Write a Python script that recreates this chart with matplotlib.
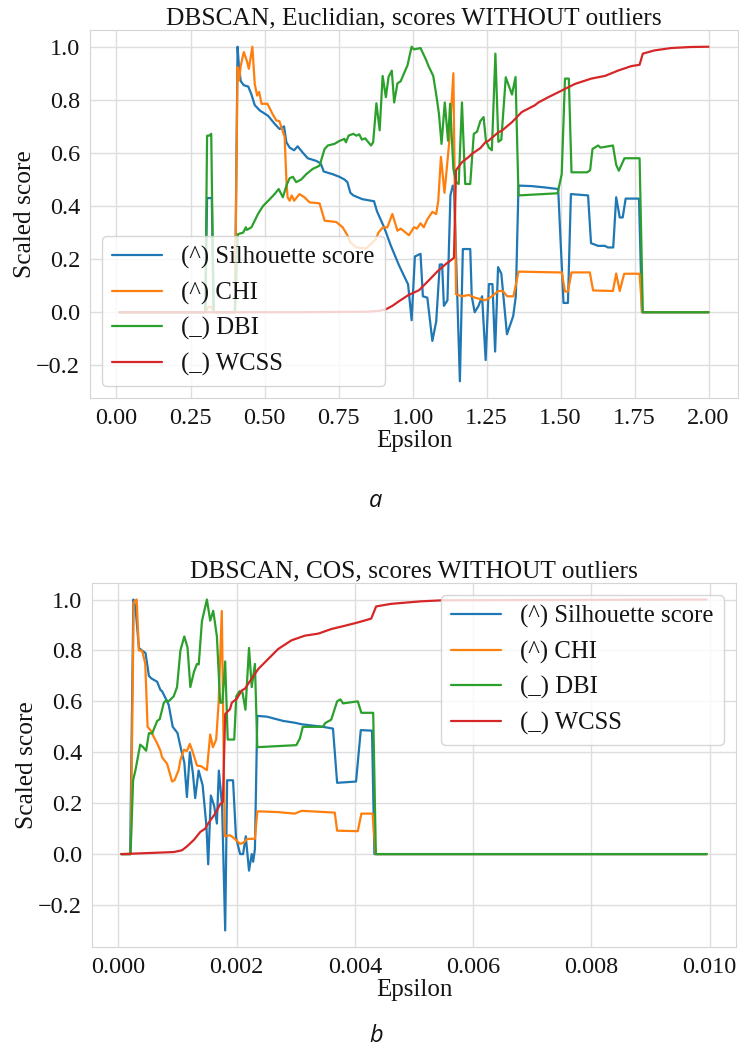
import numpy as np
import matplotlib
matplotlib.use("Agg")
import matplotlib.pyplot as plt
import seaborn as sns

# ---------------- data: panel (a) Euclidian ----------------
eu_sil_x = [0.01, 0.30, 0.306, 0.322, 0.328, 0.40, 0.409, 0.414, 0.42, 0.43, 0.445, 0.456, 0.467, 0.484,
            0.512, 0.534, 0.551, 0.566, 0.574, 0.585, 0.60, 0.612, 0.63, 0.646, 0.675, 0.69, 0.70, 0.73,
            0.753, 0.77, 0.78, 0.79, 0.80, 0.83, 0.87, 0.88, 0.904, 0.927, 0.955, 0.985, 0.997, 1.008,
            1.027, 1.035, 1.05, 1.067, 1.08, 1.092, 1.10, 1.106, 1.118, 1.128, 1.136, 1.14, 1.16, 1.17,
            1.195, 1.20, 1.21, 1.223, 1.235, 1.247, 1.258, 1.27, 1.279, 1.289, 1.30, 1.319, 1.34, 1.349,
            1.358, 1.403, 1.448, 1.492, 1.51, 1.525, 1.535, 1.593, 1.603, 1.627, 1.65, 1.66, 1.678, 1.688,
            1.70, 1.71, 1.72, 1.765, 1.775, 2.0]
eu_sil_y = [0, 0, 0.43, 0.43, 0, 0, 1.0, 0.92, 0.87, 0.855, 0.85, 0.82, 0.78, 0.76,
            0.74, 0.71, 0.69, 0.70, 0.64, 0.62, 0.61, 0.625, 0.60, 0.58, 0.57, 0.56, 0.53, 0.52,
            0.51, 0.50, 0.49, 0.45, 0.44, 0.426, 0.418, 0.38, 0.32, 0.25, 0.175, 0.105, -0.03, 0.21,
            0.22, 0.06, 0.055, -0.108, -0.035, 0.18, 0.18, 0.024, 0.045, 0.44, 0.477, 0.47, -0.26, 0.238,
            0.238, 0.06, 0.0, 0.024, 0.06, -0.18, 0.106, 0.106, -0.148, 0.17, 0.145, -0.083, -0.015, 0.06,
            0.477, 0.475, 0.47, 0.464, 0.035, 0.035, 0.445, 0.44, 0.26, 0.25, 0.25, 0.244, 0.244, 0.433,
            0.357, 0.357, 0.428, 0.428, 0.0, 0.0]

eu_chi_x = [0.01, 0.30, 0.31, 0.32, 0.33, 0.40, 0.409, 0.414, 0.42, 0.43, 0.44, 0.447, 0.459, 0.467,
            0.475, 0.482, 0.49, 0.51, 0.527, 0.54, 0.55, 0.557, 0.568, 0.574, 0.578, 0.585, 0.592, 0.60,
            0.618, 0.635, 0.652, 0.686, 0.703, 0.742, 0.764, 0.78, 0.79, 0.81, 0.843, 0.876, 0.885, 0.90,
            0.915, 0.932, 0.949, 0.96, 0.988, 1.005, 1.015, 1.027, 1.038, 1.05, 1.067, 1.08, 1.087, 1.096,
            1.108, 1.124, 1.138, 1.147, 1.167, 1.19, 1.21, 1.246, 1.268, 1.29, 1.305, 1.32, 1.341, 1.358,
            1.49, 1.504, 1.515, 1.525, 1.537, 1.599, 1.61, 1.677, 1.688, 1.70, 1.715, 1.767, 1.776, 2.0]
eu_chi_y = [0, 0, 0.02, 0.02, 0, 0, 0.923, 0.873, 0.93, 0.98, 0.948, 0.917, 1.0, 0.86,
            0.816, 0.83, 0.785, 0.785, 0.747, 0.722, 0.72, 0.697, 0.66, 0.495, 0.433, 0.42, 0.44, 0.42,
            0.445, 0.433, 0.414, 0.41, 0.345, 0.34, 0.32, 0.29, 0.263, 0.244, 0.24, 0.275, 0.30, 0.32,
            0.32, 0.37, 0.307, 0.315, 0.29, 0.32, 0.315, 0.335, 0.32, 0.35, 0.378, 0.37, 0.42, 0.585,
            0.45, 0.64, 0.90, 0.068, 0.06, 0.065, 0.055, 0.045, 0.06, 0.08, 0.08, 0.06, 0.06, 0.153,
            0.15, 0.15, 0.078, 0.078, 0.15, 0.15, 0.082, 0.08, 0.146, 0.08, 0.145, 0.145, 0.0, 0.0]

eu_dbi_x = [0.01, 0.30, 0.306, 0.313, 0.32, 0.328, 0.40, 0.41, 0.428, 0.437, 0.44, 0.456, 0.467, 0.478,
            0.495, 0.518, 0.534, 0.548, 0.562, 0.576, 0.585, 0.596, 0.607, 0.624, 0.641, 0.663, 0.686,
            0.703, 0.714, 0.736, 0.753, 0.77, 0.775, 0.784, 0.80, 0.81, 0.82, 0.829, 0.84, 0.851, 0.86,
            0.867, 0.878, 0.889, 0.899, 0.91, 0.919, 0.93, 0.938, 0.949, 0.96, 0.983, 0.997, 1.005, 1.027,
            1.044, 1.055, 1.07, 1.08, 1.089, 1.098, 1.109, 1.12, 1.127, 1.138, 1.147, 1.156, 1.167, 1.178,
            1.195, 1.207, 1.218, 1.229, 1.24, 1.248, 1.258, 1.268, 1.28, 1.29, 1.30, 1.315, 1.336, 1.348,
            1.358, 1.49, 1.504, 1.515, 1.528, 1.537, 1.59, 1.60, 1.608, 1.627, 1.635, 1.677, 1.688, 1.697,
            1.716, 1.767, 1.778, 2.0]
eu_dbi_y = [0, 0, 0.665, 0.665, 0.672, 0, 0, 0.294, 0.30, 0.32, 0.31, 0.32, 0.345, 0.37,
            0.40, 0.426, 0.445, 0.464, 0.433, 0.483, 0.505, 0.51, 0.49, 0.50, 0.52, 0.54, 0.552,
            0.615, 0.628, 0.634, 0.645, 0.653, 0.64, 0.665, 0.672, 0.665, 0.67, 0.65, 0.655, 0.64, 0.628,
            0.64, 0.787, 0.685, 0.89, 0.81, 0.886, 0.91, 0.79, 0.862, 0.87, 0.93, 1.0, 0.99, 0.995,
            0.955, 0.925, 0.89, 0.82, 0.75, 0.634, 0.79, 0.646, 0.785, 0.54, 0.49, 0.483, 0.79, 0.483,
            0.483, 0.672, 0.68, 0.72, 0.735, 0.646, 0.62, 0.61, 0.974, 0.642, 0.65, 0.885, 0.82, 0.886,
            0.44, 0.448, 0.52, 0.88, 0.88, 0.527, 0.527, 0.535, 0.615, 0.628, 0.62, 0.628, 0.555, 0.533,
            0.58, 0.58, 0.0, 0.0]

eu_wcss_x = [0.01, 0.60, 0.85, 0.887, 0.91, 0.932, 0.955, 0.985, 1.022, 1.055, 1.085, 1.111, 1.14,
             1.147, 1.167, 1.19, 1.20, 1.229, 1.246, 1.257, 1.29, 1.302, 1.336, 1.369, 1.414, 1.425,
             1.459, 1.504, 1.549, 1.604, 1.65, 1.694, 1.739, 1.767, 1.778, 1.817, 1.873, 1.94, 2.0]
eu_wcss_y = [0, 0, 0.002, 0.005, 0.011, 0.024, 0.042, 0.064, 0.083, 0.12, 0.155, 0.18, 0.205,
             0.535, 0.565, 0.585, 0.596, 0.618, 0.64, 0.646, 0.678, 0.684, 0.716, 0.754, 0.78, 0.79,
             0.81, 0.835, 0.86, 0.88, 0.89, 0.91, 0.927, 0.932, 0.974, 0.986, 0.995, 0.999, 1.0]

# ---------------- data: panel (b) COS (epsilon in units of 1e-3) ----------------
cos_sil_x = [0.05, 0.20, 0.255, 0.29, 0.348, 0.40, 0.46, 0.517, 0.56, 0.657, 0.712, 0.74, 0.825, 0.853,
             0.92, 1.0, 1.06, 1.116, 1.16, 1.21, 1.26, 1.30, 1.358, 1.426, 1.49, 1.52, 1.565, 1.62, 1.667,
             1.70, 1.755, 1.807, 1.84, 1.94, 1.99, 2.06, 2.11, 2.155, 2.21, 2.256, 2.28, 2.31, 2.35, 2.51,
             2.79, 2.985, 3.1, 3.46, 3.63, 3.70, 4.02, 4.10, 4.29, 4.33, 9.95]
cos_sil_y = [0, 0, 1.0, 0.97, 0.81, 0.80, 0.79, 0.70, 0.69, 0.677, 0.645, 0.64, 0.60, 0.585,
             0.50, 0.476, 0.413, 0.36, 0.224, 0.40, 0.32, 0.22, 0.328, 0.27, 0.11, -0.04, 0.23, 0.19, 0.12,
             0.328, 0.19, -0.30, 0.29, 0.29, 0.065, 0.0, 0.0, 0.07, -0.065, 0.0, -0.03, 0.02, 0.543, 0.54,
             0.523, 0.516, 0.51, 0.50, 0.493, 0.28, 0.285, 0.487, 0.485, 0.0, 0.0]

cos_chi_x = [0.05, 0.21, 0.26, 0.31, 0.348, 0.40, 0.455, 0.495, 0.55, 0.60, 0.657, 0.712, 0.74, 0.825,
             0.909, 0.95, 1.02, 1.05, 1.11, 1.16, 1.21, 1.26, 1.33, 1.40, 1.498, 1.554, 1.60, 1.655, 1.695,
             1.75, 1.80, 1.89, 1.97, 2.06, 2.115, 2.18, 2.28, 2.31, 2.35, 2.70, 2.985, 3.1, 3.66, 3.70,
             4.05, 4.11, 4.30, 4.35, 9.95]
cos_chi_y = [0, 0, 0.99, 1.0, 0.80, 0.80, 0.75, 0.50, 0.485, 0.46, 0.435, 0.406, 0.38, 0.355,
             0.285, 0.29, 0.33, 0.37, 0.41, 0.405, 0.433, 0.40, 0.348, 0.345, 0.33, 0.47, 0.42, 0.45, 0.59,
             0.955, 0.07, 0.074, 0.06, 0.04, 0.045, 0.06, 0.06, 0.06, 0.168, 0.165, 0.159, 0.17, 0.163, 0.092,
             0.09, 0.159, 0.159, 0.0, 0.0]

cos_dbi_x = [0.05, 0.207, 0.25, 0.29, 0.37, 0.42, 0.47, 0.517, 0.572, 0.657, 0.70, 0.77, 0.81, 0.85,
             0.937, 0.993, 1.05, 1.116, 1.17, 1.218, 1.278, 1.33, 1.36, 1.414, 1.498, 1.554, 1.605, 1.667,
             1.722, 1.76, 1.807, 1.85, 1.96, 1.995, 2.05, 2.10, 2.15, 2.21, 2.256, 2.31, 2.35, 3.01, 3.07,
             3.12, 3.46, 3.50, 3.60, 3.70, 3.754, 3.80, 4.05, 4.11, 4.31, 4.355, 9.95]
cos_dbi_y = [0, 0.0, 0.29, 0.33, 0.43, 0.42, 0.406, 0.475, 0.474, 0.523, 0.53, 0.595, 0.604, 0.60,
             0.62, 0.656, 0.80, 0.855, 0.812, 0.656, 0.715, 0.747, 0.745, 0.915, 1.0, 0.917, 0.956, 0.855,
             0.595, 0.595, 0.757, 0.45, 0.45, 0.62, 0.64, 0.635, 0.567, 0.81, 0.656, 0.747, 0.42, 0.428, 0.454,
             0.50, 0.50, 0.515, 0.528, 0.60, 0.608, 0.592, 0.60, 0.555, 0.555, 0.0, 0.0]

cos_wcss_x = [0.05, 0.937, 1.077, 1.16, 1.274, 1.30, 1.386, 1.47, 1.498, 1.61, 1.64, 1.722, 1.768,
              1.807, 1.89, 1.919, 2.003, 2.088, 2.143, 2.256, 2.37, 2.537, 2.705, 2.93, 3.153, 3.38,
              3.60, 3.83, 4.05, 4.276, 4.36, 4.61, 5.12, 5.48, 9.95]
cos_wcss_y = [0, 0.008, 0.015, 0.03, 0.055, 0.062, 0.087, 0.10, 0.113, 0.15, 0.16, 0.196, 0.205,
              0.55, 0.57, 0.595, 0.61, 0.643, 0.65, 0.69, 0.728, 0.767, 0.806, 0.84, 0.858, 0.866,
              0.884, 0.897, 0.91, 0.925, 0.973, 0.983, 0.993, 0.997, 1.0]

labels = ["(^) Silhouette score", "(^) CHI", "(_) DBI", "(_) WCSS"]
colors = ["#1f77b4", "#ff7f0e", "#2ca02c", "#d62728"]
yticks = [-0.2, 0.0, 0.2, 0.4, 0.6, 0.8, 1.0]

# ---------------- style ----------------
sns.set_style("whitegrid")
plt.rcParams["font.family"] = ["Liberation Serif", "DejaVu Serif"]
plt.rcParams["font.size"] = 17.5
plt.rcParams["grid.color"] = "#dedede"
plt.rcParams["axes.edgecolor"] = "#d5d5d5"
plt.rcParams["text.color"] = "#141414"
plt.rcParams["axes.labelcolor"] = "#141414"
plt.rcParams["xtick.color"] = "#141414"
plt.rcParams["ytick.color"] = "#141414"

fig = plt.figure(figsize=(7.39, 10.5), dpi=100)
ax1 = fig.add_axes([90 / 739, 1 - 398 / 1050, 648 / 739, 368 / 1050])
ax2 = fig.add_axes([92 / 739, 1 - 947 / 1050, 644 / 739, 364 / 1050])

scale = 1e-3
series_a = [(eu_sil_x, eu_sil_y), (eu_chi_x, eu_chi_y), (eu_dbi_x, eu_dbi_y), (eu_wcss_x, eu_wcss_y)]
series_b = [(cos_sil_x, cos_sil_y), (cos_chi_x, cos_chi_y), (cos_dbi_x, cos_dbi_y), (cos_wcss_x, cos_wcss_y)]

for (x, y), lab, c in zip(series_a, labels, colors):
    ax1.plot(x, y, color=c, lw=1.6, label=lab)
for (x, y), lab, c in zip(series_b, labels, colors):
    ax2.plot(np.array(x) * scale, y, color=c, lw=1.6, label=lab)

for ax, title in [(ax1, "DBSCAN, Euclidian, scores WITHOUT outliers"),
                  (ax2, "DBSCAN, COS, scores WITHOUT outliers")]:
    ax.set_title(title, fontsize=18.3, pad=4)
    ax.set_xlabel("Epsilon", fontsize=18, labelpad=1)
    ax.set_ylabel("Scaled score", fontsize=18.3, labelpad=0)
    ax.tick_params(labelsize=17.5)
    ax.set_yticks(yticks)
    ax.grid(True, color="#dedede", lw=1)

ax1.set_xticks([0.0, 0.25, 0.5, 0.75, 1.0, 1.25, 1.5, 1.75, 2.0])
ax1.legend(loc="lower left", fontsize=17.8)
ax2.legend(loc="upper right", fontsize=17.8)

fig.text(376 / 739, 1 - 501 / 1050, "a", fontsize=17, style="italic",
         family=["Open Sans", "DejaVu Sans"], ha="center", va="center")
fig.text(376 / 739, 1 - 1036 / 1050, "b", fontsize=17, style="italic",
         family=["Open Sans", "DejaVu Sans"], ha="center", va="center")

fig.savefig("out.png", dpi=100)
